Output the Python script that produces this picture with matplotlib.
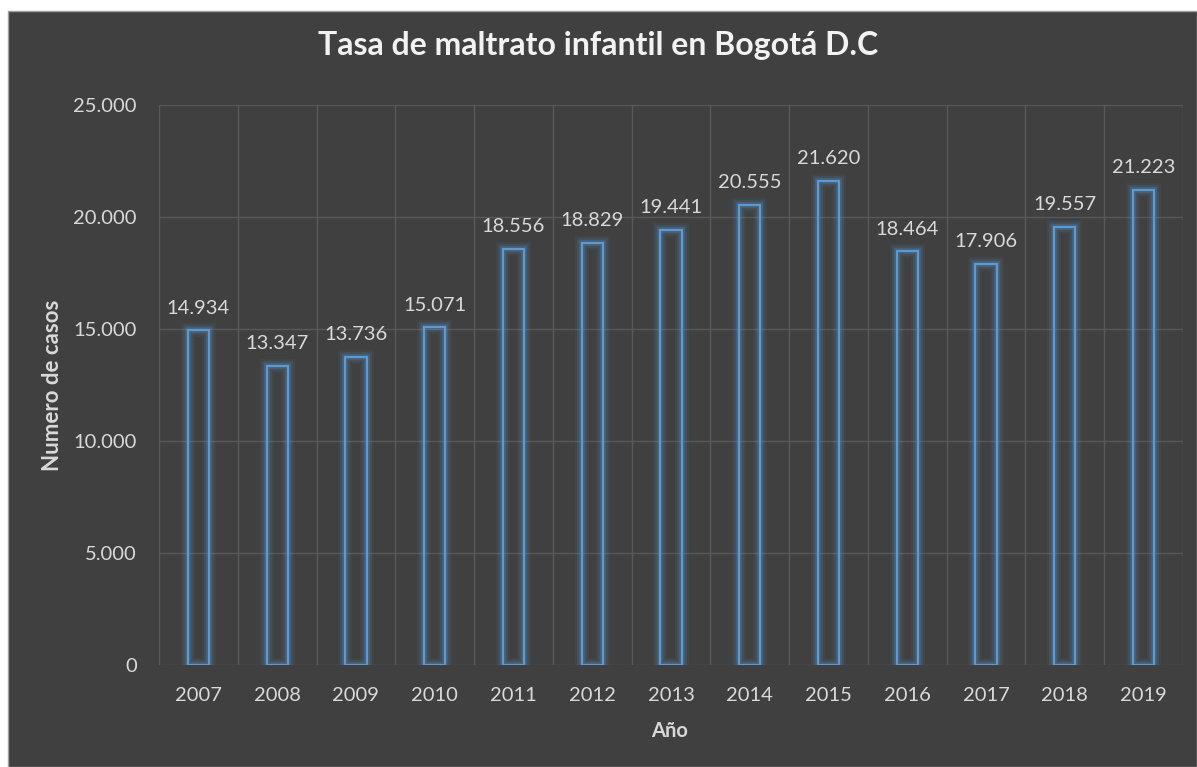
import matplotlib
matplotlib.use('Agg')
import matplotlib.pyplot as plt
import matplotlib.ticker as myticker
import matplotlib.patheffects as pe
from matplotlib.patches import Rectangle

# Data
years = ['2007', '2008', '2009', '2010', '2011', '2012', '2013',
         '2014', '2015', '2016', '2017', '2018', '2019']
cases = [14934, 13347, 13736, 15071, 18556, 18829, 19441,
         20555, 21620, 18464, 17906, 19557, 21223]
y_ticks = [0, 5000, 10000, 15000, 20000, 25000]

BG = '#404040'
GRID = '#595959'
TEXT = '#d9d9d9'
BAR = '#5b9bd5'

plt.rcParams['font.family'] = ['Lato', 'DejaVu Sans']


def thousands(x, pos=None):
    return f"{int(x):,}".replace(',', '.')


W, H = 1197, 767
fig = plt.figure(figsize=(W / 100, H / 100), dpi=100, facecolor='white')
# dark chart area (white margin top/left as in the screenshot)
fig.patches.append(Rectangle((8 / W, 0), 1 - 8 / W, 1 - 11 / H,
                             transform=fig.transFigure, facecolor=BG,
                             edgecolor='#a0a0a0', linewidth=1, zorder=-10))

ax = fig.add_axes([159 / W, 1 - 665 / H, 1024 / W, 560 / H])
ax.set_facecolor(BG)

x = list(range(len(years)))
glow = [pe.Stroke(linewidth=10, foreground=BAR, alpha=0.07),
        pe.Stroke(linewidth=7, foreground=BAR, alpha=0.12),
        pe.Stroke(linewidth=4, foreground=BAR, alpha=0.25),
        pe.Normal()]
bars = ax.bar(x, cases, width=0.27, facecolor='none', edgecolor=BAR,
              linewidth=1.5, zorder=3)
for b in bars:
    b.set_path_effects(glow)

for xi, v in zip(x, cases):
    ax.text(xi, v + 620, thousands(v), ha='center', va='bottom',
            color=TEXT, fontsize=14.5)

ax.set_xlim(-0.5, len(years) - 0.5)
ax.set_ylim(0, 25000)
ax.set_yticks(y_ticks)
ax.yaxis.set_major_formatter(myticker.FuncFormatter(thousands))
ax.set_xticks(x)
ax.set_xticklabels(years)
ax.set_xticks([i - 0.5 for i in range(len(years) + 1)], minor=True)

ax.grid(True, axis='y', which='major', color=GRID, linewidth=1, zorder=0)
ax.grid(True, axis='x', which='minor', color=GRID, linewidth=1, zorder=0)
ax.grid(False, axis='x', which='major')
for s in ax.spines.values():
    s.set_visible(False)

ax.tick_params(axis='both', which='both', length=0, colors=TEXT, labelsize=14.5)
ax.tick_params(axis='y', pad=16)
ax.tick_params(axis='x', pad=16)

fig.text(670 / W, 1 - 731 / H, 'Año', ha='center', va='center',
         color=TEXT, fontsize=14.5, fontweight='bold')
fig.text(53 / W, 1 - 385 / H, 'Numero de casos', ha='center', va='center',
         rotation=90, color=TEXT, fontsize=16, fontweight='bold')

fig.text(0.5, 1 - 46 / H, 'Tasa de maltrato infantil en Bogotá D.C',
         ha='center', va='center', color='#f2f2f2', fontsize=23,
         fontweight='bold')

fig.savefig('out.png', dpi=100, facecolor=fig.get_facecolor())
